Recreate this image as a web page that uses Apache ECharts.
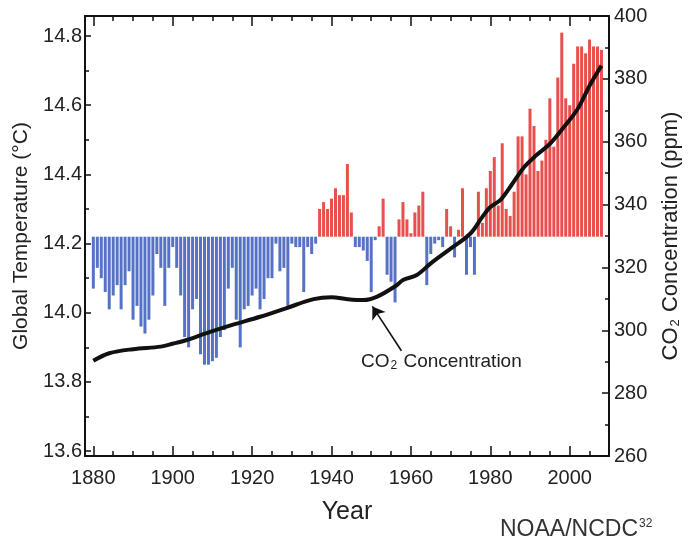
<!DOCTYPE html>
<html><head><meta charset="utf-8">
<script src="https://cdn.jsdelivr.net/npm/echarts@6/dist/echarts.min.js"></script>
<style>html,body{margin:0;padding:0;background:#fff}#c{width:700px;height:548px}</style>
</head><body><div id="c"></div>
<script>
// ---- data ----
const years = [1880,1881,1882,1883,1884,1885,1886,1887,1888,1889,
1890,1891,1892,1893,1894,1895,1896,1897,1898,1899,
1900,1901,1902,1903,1904,1905,1906,1907,1908,1909,
1910,1911,1912,1913,1914,1915,1916,1917,1918,1919,
1920,1921,1922,1923,1924,1925,1926,1927,1928,1929,
1930,1931,1932,1933,1934,1935,1936,1937,1938,1939,
1940,1941,1942,1943,1944,1945,1946,1947,1948,1949,
1950,1951,1952,1953,1954,1955,1956,1957,1958,1959,
1960,1961,1962,1963,1964,1965,1966,1967,1968,1969,
1970,1971,1972,1973,1974,1975,1976,1977,1978,1979,
1980,1981,1982,1983,1984,1985,1986,1987,1988,1989,
1990,1991,1992,1993,1994,1995,1996,1997,1998,1999,
2000,2001,2002,2003,2004,2005,2006,2007,2008];
const temps = [14.07,14.13,14.10,14.06,14.01,14.05,14.08,14.01,14.08,14.12,
13.98,14.02,13.96,13.94,13.98,14.05,14.17,14.13,14.02,14.13,
14.19,14.13,14.05,13.93,13.90,14.01,14.04,13.88,13.85,13.85,
13.86,13.87,13.93,13.95,14.07,14.13,13.98,13.90,14.01,14.02,
14.05,14.07,14.01,14.04,14.10,14.10,14.20,14.12,14.13,14.02,
14.20,14.19,14.19,14.06,14.19,14.17,14.20,14.30,14.32,14.30,
14.33,14.36,14.34,14.34,14.43,14.29,14.19,14.19,14.18,14.15,
14.06,14.21,14.25,14.33,14.11,14.09,14.03,14.27,14.32,14.27,
14.23,14.29,14.31,14.35,14.08,14.17,14.20,14.21,14.19,14.30,
14.25,14.16,14.24,14.36,14.11,14.19,14.11,14.35,14.26,14.36,
14.41,14.45,14.31,14.49,14.30,14.28,14.35,14.51,14.51,14.40,
14.59,14.54,14.41,14.44,14.50,14.62,14.48,14.68,14.81,14.62,
14.60,14.72,14.77,14.77,14.75,14.79,14.77,14.77,14.76];
const BASE_TEMP = 14.22;
const co2Years = [1880,1884,1890,1897,1900,1903.5,1908.5,1915,1922,1928.5,1935.5,1940,1944,1948,1951.5,1956.5,1958,1961.5,1965,1970,1975,1978,1980,1982.5,1985,1988.5,1991.5,1995,1998.5,2002,2005,2008];
const co2Values = [290.3,292.7,294.0,294.8,295.7,296.9,299.1,301.7,304.3,307.0,309.9,310.5,309.9,309.6,310.7,314.4,316.0,317.6,321.3,326.0,330.8,336.1,339.2,341.4,345.6,351.9,355.6,359.3,364.6,370.4,377.8,384.2];
const xMajorTicks = [1880,1900,1920,1940,1960,1980,2000];
const xMinorTicks = [1885,1890,1895,1905,1910,1915,1925,1930,1935,1945,1950,1955,1965,1970,1975,1985,1990,1995,2005];
const tempTicks = [13.6,13.8,14.0,14.2,14.4,14.6,14.8];
const tempMinorTicks = [13.7,13.9,14.1,14.3,14.5,14.7];
const arrowTail = [1957.6, 293.5];
const arrowTip = [1950.3, 307.6];

// ---- chart ----
const FONT = 'Liberation Sans, Arial, Helvetica, sans-serif';
const INK = '#111';
const X_MIN = 1877.9, X_MAX = 2009.9;
const T_MIN = 13.586, T_MAX = 14.858;
const RED = '#e8504e', BLUE = '#5572c6';

function xAxisDef(pos, ticks, len, showLine, showLabels) {
  return {
    type: 'value', min: X_MIN, max: X_MAX, position: pos, gridIndex: 0,
    axisLine: {show: showLine, onZero: false, lineStyle: {color: INK, width: 2}},
    axisTick: {show: true, inside: true, length: len, customValues: ticks, lineStyle: {color: INK, width: 1.5}},
    axisLabel: showLabels ? {show: true, customValues: ticks, fontSize: 20, color: '#222', margin: 12, fontFamily: FONT,
      formatter: v => String(Math.round(v))} : {show: false},
    splitLine: {show: false}
  };
}
function yTempDef(ticks, len, showLine, showLabels) {
  return {
    type: 'value', min: T_MIN, max: T_MAX, position: 'left', gridIndex: 0,
    axisLine: {show: showLine, onZero: false, lineStyle: {color: INK, width: 2}},
    axisTick: {show: true, inside: true, length: len, customValues: ticks, lineStyle: {color: INK, width: 1.5}},
    axisLabel: showLabels ? {show: true, customValues: ticks, fontSize: 20, color: '#222', margin: 3, fontFamily: FONT,
      formatter: v => Number(v).toFixed(1)} : {show: false},
    splitLine: {show: false}
  };
}

const xAxes = [
  Object.assign(xAxisDef('bottom', xMajorTicks, 10, true, true), {
    name: 'Year', nameLocation: 'middle', nameGap: 44,
    nameTextStyle: {fontSize: 25, color: '#222', fontFamily: FONT}
  }),
  xAxisDef('bottom', xMinorTicks, 5, false, false),
  xAxisDef('top', xMajorTicks, 10, true, false),
  xAxisDef('top', xMinorTicks, 5, false, false)
];

const yAxes = [
  Object.assign(yTempDef(tempTicks, 6, true, true), {
    name: 'Global Temperature (°C)', nameLocation: 'middle', nameGap: 52, nameRotate: 90,
    nameTextStyle: {fontSize: 21, color: '#222', fontFamily: FONT}
  }),
  yTempDef(tempMinorTicks, 4, false, false),
  {
    type: 'value', min: 260, max: 400, interval: 20, position: 'right', gridIndex: 0,
    axisLine: {show: true, onZero: false, lineStyle: {color: INK, width: 2}},
    axisTick: {show: true, inside: true, length: 7, lineStyle: {color: INK, width: 1.5}},
    minorTick: {show: true, splitNumber: 2, length: 4, lineStyle: {color: INK, width: 1.5}},
    axisLabel: {fontSize: 20, color: '#222', margin: 5, fontFamily: FONT},
    splitLine: {show: false}, minorSplitLine: {show: false},
    name: '{a|CO}{s|2}{a| Concentration (ppm)}', nameLocation: 'middle', nameGap: 50, nameRotate: 90,
    nameTextStyle: {color: '#222', fontFamily: FONT, rich: {
      a: {fontSize: 22, color: '#222', fontFamily: FONT},
      s: {fontSize: 13, color: '#222', fontFamily: FONT, padding: [10, 1, 0, 1]}
    }}
  },
  {
    type: 'value', min: T_MIN - BASE_TEMP, max: T_MAX - BASE_TEMP, show: false, gridIndex: 0,
    splitLine: {show: false}
  }
];

const barData = years.map((y, i) => ({
  value: [y, +(temps[i] - BASE_TEMP).toFixed(3)],
  itemStyle: {color: temps[i] >= BASE_TEMP ? RED : BLUE}
}));
const lineData = co2Years.map((y, i) => [y, co2Values[i]]);

const option = {
  animation: false,
  backgroundColor: '#fff',
  textStyle: {fontFamily: FONT},
  grid: {left: 85, right: 91, top: 16, bottom: 92, containLabel: false},
  xAxis: xAxes,
  yAxis: yAxes,
  series: [
    {
      type: 'bar', name: 'Global Temperature', xAxisIndex: 0, yAxisIndex: 3,
      barWidth: 3, data: barData, z: 2
    },
    {
      type: 'line', name: 'CO2 Concentration', xAxisIndex: 0, yAxisIndex: 2,
      data: lineData, smooth: 0.35, showSymbol: false, symbol: 'none',
      lineStyle: {color: '#111', width: 4}, z: 5,
      markLine: {
        silent: true, symbol: ['none', 'arrow'], symbolSize: 12,
        lineStyle: {color: '#111', width: 1.6, type: 'solid'},
        label: {show: false},
        data: [[{coord: arrowTail}, {coord: arrowTip}]]
      }
    }
  ],
  graphic: [
    {
      type: 'text', left: 361, top: 352, z: 10,
      style: {
        text: '{a|CO}{s|2}{a| Concentration}',
        rich: {
          a: {fontSize: 19, fill: '#222', fontFamily: FONT},
          s: {fontSize: 12, fill: '#222', fontFamily: FONT, padding: [9, 1, 0, 1]}
        }
      }
    },
    {
      type: 'text', left: 500, top: 518, z: 10,
      style: {
        text: '{a|NOAA/NCDC}{p|32}',
        rich: {
          a: {fontSize: 23, fill: '#333', fontFamily: FONT},
          p: {fontSize: 12, fill: '#333', fontFamily: FONT, padding: [0, 0, 12, 1]}
        }
      }
    }
  ]
};

const chart = echarts.init(document.getElementById('c'), null, {renderer: 'canvas'});
chart.setOption(option);
</script></body></html>
